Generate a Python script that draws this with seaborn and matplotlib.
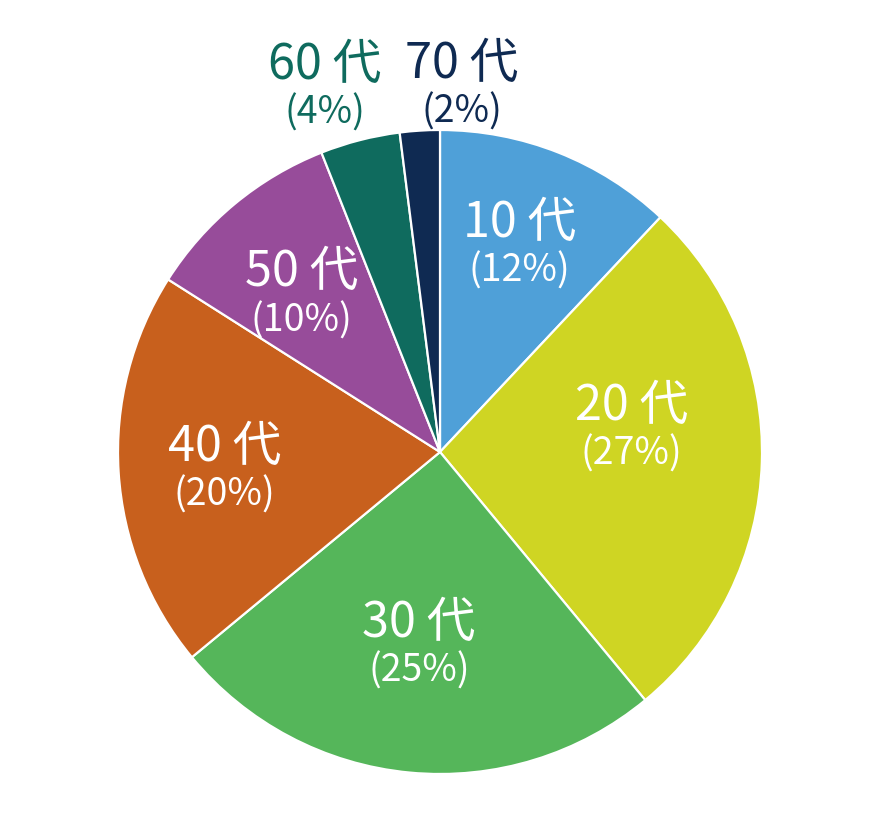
"""
Age-group pie chart (年代別構成比).
Output: out.png
"""
import numpy as np
import matplotlib.pyplot as plt
import seaborn as sns

# --- Data ---
groups = ["10 代", "20 代", "30 代", "40 代", "50 代", "60 代", "70 代"]
shares = [12, 27, 25, 20, 10, 4, 2]
colors = ["#4FA0D8", "#CFD523", "#55B65A", "#C8601D", "#974C9A", "#0F6B5E", "#0F2A52"]

# label placement (fraction of radius, angle nudge in degrees)
label_dist = [0.70, 0.60, 0.59, 0.67, 0.66, 1.20, 1.15]
label_nudge = [1, 10, -1, 0, 1, 3, -7]
outside = [False, False, False, False, False, True, True]

sns.set_theme(style="white")
plt.rcParams["font.family"] = ["Noto Sans CJK JP", "DejaVu Sans"]

fig = plt.figure(figsize=(8.84, 8.35), dpi=100)
ax = fig.add_axes([0, 0, 1, 1])

cx, cy, R = 440, 383, 322
wedges, _ = ax.pie(
    shares,
    colors=colors,
    startangle=90,
    counterclock=False,
    center=(cx, cy),
    radius=R,
    wedgeprops=dict(edgecolor="white", linewidth=1.6),
    frame=True,
)
ax.set_xlim(0, 884)
ax.set_ylim(0, 835)
ax.set_aspect("equal")
ax.axis("off")

for w, name, pct, d, nud, out, col in zip(
    wedges, groups, shares, label_dist, label_nudge, outside, colors
):
    ang = np.deg2rad((w.theta1 + w.theta2) / 2 + nud)
    x = cx + d * R * np.cos(ang)
    y = cy + d * R * np.sin(ang)
    tc = col if out else "white"
    ax.text(x, y + 18, name, ha="center", va="center", fontsize=35, color=tc)
    ax.text(x, y - 30, f"({pct}%)", ha="center", va="center", fontsize=27, color=tc)

fig.savefig("out.png", dpi=100, facecolor="white")
plt.close(fig)
